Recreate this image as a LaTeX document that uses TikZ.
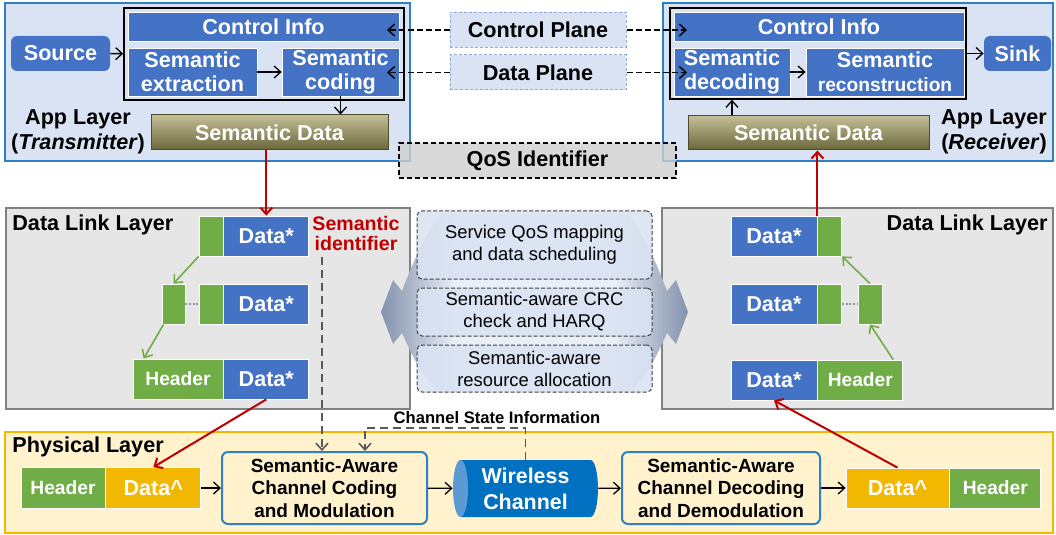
\documentclass[tikz,border=0pt]{standalone}
\usepackage{fontspec}
\setmainfont{Liberation Sans}
\usepackage{tikz}
\usetikzlibrary{positioning,calc,arrows.meta}

\definecolor{boxblue}{HTML}{4472C4}
\definecolor{appfill}{HTML}{DAE3F3}
\definecolor{appline}{HTML}{2E7FC4}
\definecolor{olivetop}{HTML}{C4BE97}
\definecolor{olivebot}{HTML}{6B663A}
\definecolor{olivedk}{HTML}{4F4B2B}
\definecolor{dllfill}{HTML}{E7E6E6}
\definecolor{dllline}{HTML}{808080}
\definecolor{grn}{HTML}{70AD47}
\definecolor{gold}{HTML}{F2B700}
\definecolor{physfill}{HTML}{FFF2CC}
\definecolor{chanblue}{HTML}{0070C0}
\definecolor{chanend}{HTML}{5B9BD5}
\definecolor{qosfill}{HTML}{CFCFCF}
\definecolor{darkred}{HTML}{C00000}
\definecolor{dgray}{HTML}{595959}
\definecolor{arrgray}{HTML}{8494AE}
\definecolor{planeline}{HTML}{8EAADB}
\pgfdeclarehorizontalshading{midarrow}{100bp}{color(0bp)=(arrgray); color(25bp)=(arrgray);
  color(29bp)=(arrgray!75!white); color(37bp)=(appfill!55!white); color(63bp)=(appfill!55!white);
  color(71bp)=(arrgray!75!white); color(75bp)=(arrgray); color(100bp)=(arrgray)}

\begin{document}
\begin{tikzpicture}[x=0.5pt, y=-0.5pt, >={Straight Barb[length=3.3pt,width=6pt]}]
\tikzstyle{bf}=[font=\fontsize{10.8}{12}\selectfont\bfseries]
\tikzstyle{blk}=[bf, rectangle, draw=white, line width=0.4pt, fill=boxblue, text=white,
                 inner sep=0pt, align=center]
\tikzstyle{grnbox}=[blk, fill=grn, font=\fontsize{9.6}{11}\selectfont\bfseries]
\tikzstyle{goldbox}=[blk, fill=gold]
\tikzstyle{sdata}=[bf, rectangle, draw=olivedk, line width=0.5pt, top color=olivetop,
                   bottom color=olivebot, text=white, inner sep=0pt]
\tikzstyle{applayer}=[rectangle, draw=appline, line width=1pt, fill=appfill, inner sep=0pt]
\tikzstyle{dll}=[rectangle, draw=dllline, line width=1pt, fill=dllfill, inner sep=0pt]
\tikzstyle{plane}=[bf, rectangle, draw=planeline, line width=0.5pt, dash pattern=on 1.5pt off 1pt,
                   fill=appfill, inner sep=0pt]
\tikzstyle{svc}=[rectangle, rounded corners=2.5pt, draw=black!75, line width=0.5pt,
                 dash pattern=on 2pt off 1pt, fill=appfill, fill opacity=0.9, text opacity=1,
                 font=\fontsize{9.2}{11}\selectfont, align=center, inner sep=0pt]
\tikzstyle{pbox}=[rectangle, rounded corners=3pt, draw=appline, line width=1pt, fill=physfill,
                  font=\fontsize{9.5}{11.2}\selectfont\bfseries, align=center, inner sep=0pt]
\tikzstyle{arr}=[->, line width=0.65pt]
\tikzstyle{darr}=[->, line width=0.7pt, dash pattern=on 3pt off 1.5pt]
\tikzstyle{rarr}=[->, draw=darkred, line width=1pt]
\tikzstyle{garr}=[->, draw=grn, line width=0.8pt]
\tikzstyle{dline}=[->, draw=dgray, line width=0.8pt, dash pattern=on 4pt off 2.5pt]
\tikzstyle{dotl}=[draw=arrgray, line width=0.8pt, dash pattern=on 1pt off 0.8pt]
\useasboundingbox (0,0) rectangle (1056,535);

% app layer, transmitter
\node[applayer, minimum width=202.5pt, minimum height=79pt] (appT) at (207.5,82) {};
\node[draw=black, line width=0.8pt, minimum width=140pt, minimum height=46pt] (frameT) at (264,54) {};
\node[blk, minimum width=135.5pt, minimum height=14.5pt] (ctrlT) at (263.5,26.5) {Control Info};
\node[blk, minimum width=64.5pt, minimum height=24pt] (extr) at (192.5,72) {Semantic\\extraction};
\node[blk, minimum width=58.5pt, minimum height=24pt] (coding) at (340.5,72) {Semantic\\coding};
\node[blk, rounded corners=3pt, draw=none, minimum width=49.5pt, minimum height=17.5pt] (source) at (60.5,53.5) {Source};
\node[sdata, minimum width=118.5pt, minimum height=17.5pt] (sdataT) at (269.5,132.5) {Semantic Data};
\node[bf, align=center, font=\fontsize{10.8}{12.5}\selectfont\bfseries] (lblT) at (78,132) {App Layer\\(\textit{Transmitter})};

% app layer, receiver
\node[applayer, minimum width=195pt, minimum height=79pt] (appR) at (858,82) {};
\node[draw=black, line width=0.8pt, minimum width=148pt, minimum height=45.5pt] (frameR) at (818,53.5) {};
\node[blk, minimum width=145pt, minimum height=14.5pt] (ctrlR) at (819,26.5) {Control Info};
\node[blk, minimum width=58pt, minimum height=24pt] (decod) at (732,72) {Semantic\\decoding};
\node[blk, minimum width=79pt, minimum height=24pt] (recon) at (885,72) {Semantic\\{\fontsize{9.6}{12}\selectfont reconstruction}};
\node[blk, rounded corners=3pt, draw=none, minimum width=33.5pt, minimum height=17.5pt] (sink) at (1017.5,53.5) {Sink};
\node[sdata, minimum width=120.5pt, minimum height=17pt] (sdataR) at (808.5,133) {Semantic Data};
\node[bf, align=center, font=\fontsize{10.8}{12.5}\selectfont\bfseries] (lblR) at (994,132) {App Layer\\(\textit{Receiver})};

% planes
\node[plane, minimum width=88pt, minimum height=17.5pt] (cplane) at (538,30) {Control Plane};
\node[plane, minimum width=88pt, minimum height=17.5pt] (dplane) at (538,72.5) {Data Plane};
\node[bf, rectangle, draw=black, line width=0.6pt, dash pattern=on 2.5pt off 1.5pt, fill=qosfill,
      fill opacity=0.8, text opacity=1, minimum width=138.5pt, minimum height=17.5pt, inner sep=0pt] (qos) at (537.5,160.5) {QoS Identifier};
\coordinate (cT) at (387,30);
\coordinate (dT) at (387,72.5);
\coordinate (cR) at (687,30);
\coordinate (dR) at (687,72.5);
\foreach \i/\j in {cplane/cT,dplane/dT,cplane/cR,dplane/dR}{\draw[darr] (\i) -- (\j);}
\foreach \i/\j in {source/frameT,extr/coding,decod/recon,frameR/sink}{\draw[arr] (\i) -- (\j);}
\draw[arr] (coding.south) -- (coding.south |- sdataT.north);
\draw[arr] (sdataR.north -| decod) -- (frameR.south -| decod);

% data link layer, left
\node[dll, minimum width=202pt, minimum height=100.5pt] (dllL) at (208,308.5) {};
\node[bf, anchor=west, inner sep=0pt] (dllLt) at (12,225) {Data Link Layer};
\node[grnbox, minimum width=12pt, minimum height=20pt] (lG1) at (211,236) {};
\node[blk, minimum width=42.5pt, minimum height=20pt, right=0pt of lG1] (lD1) {Data*};
\node[grnbox, minimum width=11.5pt, minimum height=20pt] (lG2s) at (173.5,304) {};
\node[grnbox, minimum width=12pt, minimum height=20pt] (lG2) at (211,304) {};
\node[blk, minimum width=42.5pt, minimum height=20pt, right=0pt of lG2] (lD2) {Data*};
\node[grnbox, minimum width=45pt, minimum height=20pt] (lH3) at (178,379) {Header};
\node[blk, minimum width=42.5pt, minimum height=20pt, right=0pt of lH3] (lD3) {Data*};
\draw[garr] (lG1.south west) -- (lG2s.north);
\draw[garr] ([xshift=1pt]lG2s.south west) -- ([xshift=5.5pt]lH3.north west);
\draw[dotl] (lG2s) -- (lG2);
\node[bf, align=center, text=darkred, font=\fontsize{9.8}{10}\selectfont\bfseries] (sid) at (356,233) {Semantic\\identifier};

% data link layer, right
\node[dll, minimum width=195.5pt, minimum height=100.5pt] (dllR) at (857.5,308.5) {};
\node[bf, anchor=east, inner sep=0pt] (dllRt) at (1048,225) {Data Link Layer};
\node[blk, minimum width=43pt, minimum height=20pt] (rD1) at (774,236) {Data*};
\node[grnbox, minimum width=12pt, minimum height=20pt, right=0pt of rD1] (rG1) {};
\node[blk, minimum width=43pt, minimum height=20pt] (rD2) at (774,304) {Data*};
\node[grnbox, minimum width=12pt, minimum height=20pt, right=0pt of rD2] (rG2) {};
\node[grnbox, minimum width=12pt, minimum height=20pt] (rG2s) at (870,304) {};
\node[blk, minimum width=43pt, minimum height=20pt] (rD3) at (774,380) {Data*};
\node[grnbox, minimum width=42.5pt, minimum height=20pt, right=0pt of rD3] (rH3) {Header};
\draw[garr] ([xshift=-5pt]rH3.north east) -- (rG2s.south);
\draw[garr] (rG2s.north) -- (rG1.south east);
\draw[dotl] (rG2) -- (rG2s);

% middle functions
\shade[shading=midarrow]
  (381,312) -- (393,280) -- (402,291) .. controls (412,265) and (422,240) .. (440,215)
  -- (629,215) .. controls (647,240) and (657,265) .. (667,291) -- (676,280) -- (688,312)
  -- (676,344) -- (667,333) .. controls (657,355) and (647,378) .. (629,390)
  -- (440,390) .. controls (422,378) and (412,355) .. (402,333) -- (393,344) -- cycle;
\node[svc, minimum width=117.5pt, minimum height=34pt] (svc1) at (534.5,245) {Service QoS mapping\\and data scheduling};
\node[svc, minimum width=117.5pt, minimum height=24pt] (svc2) at (534.5,312) {Semantic-aware CRC\\check and HARQ};
\node[svc, minimum width=117.5pt, minimum height=23.5pt] (svc3) at (534.5,368.5) {Semantic-aware\\resource allocation};

% physical layer
\node[rectangle, draw=gold, line width=1pt, fill=physfill, minimum width=524pt, minimum height=50.5pt, inner sep=0pt] (phys) at (529,482.5) {};
\node[bf, anchor=west, inner sep=0pt] (physt) at (12,447) {Physical Layer};
\node[grnbox, minimum width=42pt, minimum height=20.5pt] (pHT) at (63,488) {Header};
\node[goldbox, minimum width=47.5pt, minimum height=20.5pt, right=0pt of pHT] (pDT) {Data\textasciicircum};
\node[pbox, minimum width=102.5pt, minimum height=36pt] (codeM) at (324.5,488) {Semantic-Aware\\Channel Coding\\and Modulation};
\fill[chanblue] (460.5,460) -- (590.5,460) arc[start angle=90, end angle=-90, x radius=3.75pt, y radius=14.25pt] -- (460.5,517) -- cycle;
\fill[chanend] (460.5,488.5) ellipse [x radius=3.75pt, y radius=14.25pt];
\node[bf, text=white, align=center, font=\fontsize{10.7}{13}\selectfont\bfseries, minimum width=72.5pt, minimum height=28.5pt, inner sep=0pt] (chan) at (525.5,488.5) {Wireless\\Channel};
\node[pbox, minimum width=99pt, minimum height=36pt] (decM) at (721,488) {Semantic-Aware\\Channel Decoding\\and Demodulation};
\node[goldbox, minimum width=51.5pt, minimum height=20pt] (pDR) at (897.5,488) {Data\textasciicircum};
\node[grnbox, minimum width=45.5pt, minimum height=20pt, right=0pt of pDR] (pHR) {Header};
\foreach \i/\j in {pDT/codeM,codeM/chan,chan/decM,decM/pDR}{\draw[arr] (\i) -- (\j);}
\node[font=\fontsize{8.3}{9}\selectfont\bfseries, inner sep=0pt] (csi) at (497,418) {Channel State Information};
\coordinate (csiL) at (365,428);
\draw[dline] (chan.north) |- (csiL) -- (csiL |- codeM.north);
\coordinate (sidc) at (322,257);
\draw[dline] (sidc) -- (sidc |- codeM.north);

% red links between layers
\draw[rarr] (sdataT.south -| lD1) -- (lD1.north);
\draw[rarr] (rD1.north east) -- (rD1.north east |- sdataR.south);
\draw[rarr] (lD3.south) -- (pDT.north);
\draw[rarr] (pDR.north) -- (rD3.south);
\end{tikzpicture}
\end{document}
